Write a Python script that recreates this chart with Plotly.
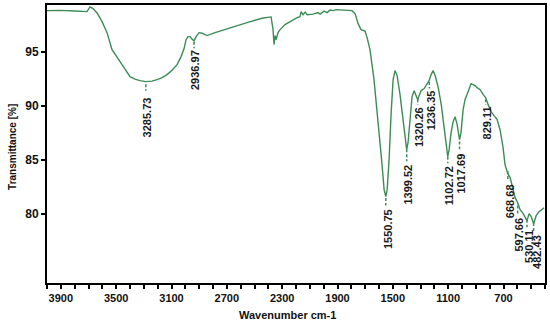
import plotly.graph_objects as go

# ---- data ----
wavenumber = [4000, 3906, 3798, 3725, 3711, 3689, 3667, 3638, 3602, 3566, 3530, 3472, 3436, 3400,
              3364, 3328, 3286, 3241, 3205, 3168, 3132, 3096, 3060, 3031, 3009, 2995, 2980, 2966,
              2951, 2937, 2922, 2901, 2879, 2843, 2785, 2677, 2554, 2438, 2380, 2366, 2359, 2351,
              2344, 2330, 2315, 2279, 2243, 2192, 2171, 2163, 2149, 2134, 2120, 2077, 2041, 2026,
              1997, 1975, 1954, 1932, 1910, 1845, 1795, 1773, 1751, 1730, 1701, 1686, 1665, 1636,
              1607, 1578, 1563, 1551, 1541, 1527, 1513, 1498, 1484, 1469, 1448, 1426, 1411, 1400,
              1390, 1375, 1361, 1346, 1332, 1320, 1310, 1296, 1274, 1252, 1238, 1223, 1209, 1194,
              1172, 1150, 1129, 1114, 1103, 1093, 1079, 1064, 1050, 1035, 1018, 1007, 992, 978,
              956, 934, 920, 905, 891, 869, 847, 829, 811, 790, 768, 746, 725, 703, 689, 669, 652,
              630, 616, 598, 580, 558, 544, 530, 515, 500, 482, 464, 443, 421, 406]
transmittance = [98.78, 98.80, 98.75, 98.72, 98.69, 99.12, 98.97, 98.57, 97.77, 96.75, 95.18, 94.08,
                 93.43, 92.69, 92.46, 92.32, 92.23, 92.28, 92.42, 92.60, 92.88, 93.29, 93.80, 94.54,
                 95.28, 96.10, 96.38, 96.38, 96.15, 96.00, 96.38, 96.75, 96.70, 96.48, 96.75, 97.20,
                 97.68, 98.10, 98.20, 97.03, 95.65, 96.48, 96.10, 96.75, 97.03, 97.49, 97.77, 98.14,
                 98.23, 98.69, 98.40, 98.64, 98.41, 98.46, 98.60, 98.46, 98.74, 98.60, 98.83, 98.78,
                 98.87, 98.83, 98.78, 98.50, 97.58, 97.03, 96.89, 96.29, 95.18, 92.42, 88.73, 84.58,
                 82.27, 81.62, 82.27, 85.04, 89.19, 92.42, 93.25, 92.79, 91.03, 88.73, 87.07, 85.96,
                 86.60, 88.90, 90.85, 91.40, 91.03, 90.57, 90.94, 91.40, 91.59, 92.05, 92.32, 92.88,
                 93.25, 92.79, 91.68, 90.11, 87.80, 86.14, 85.31, 85.96, 87.53, 88.54, 89.00, 88.27,
                 86.88, 87.53, 89.65, 90.57, 91.31, 92.05, 91.96, 91.86, 91.68, 91.49, 91.03, 90.76,
                 90.11, 89.46, 89.10, 88.73, 87.80, 86.14, 84.58, 83.75, 83.38, 82.27, 81.53, 81.07,
                 80.42, 80.06, 79.78, 79.41, 80.06, 79.78, 79.13, 79.87, 80.24, 80.42, 80.60]

peak_labels = ["3285.73", "2936.97", "1550.75", "1399.52", "1320.26", "1236.35", "1102.72",
               "1017.69", "829.11", "668.68", "597.66", "530.11", "482.43"]
peak_wavenumbers = [3285.73, 2936.97, 1550.75, 1399.52, 1320.26, 1236.35, 1102.72,
                    1017.69, 829.11, 668.68, 597.66, 530.11, 482.43]

x_tick_labels = ["3900", "3500", "3100", "2700", "2300", "1900", "1500", "1100", "700"]
y_tick_values = [80, 85, 90, 95]

# ---- label placement (axis units: transmittance where dash starts / ends / text starts) ----
dash_start = [92.0, 95.9, 81.5, 86.0, 90.6, 92.2, 85.3, 86.7, 90.6, 84.0, 80.8, 79.5, 79.2]
dash_end = [91.4, 95.3, 80.8, 84.9, 90.1, 91.6, 84.7, 86.0, 90.1, 83.2, 80.0, 78.8, 78.4]
text_top = [90.9, 95.2, 80.6, 84.7, 90.0, 91.5, 84.5, 85.7, 90.0, 82.9, 79.8, 78.6, 78.2]
label_xshift = [1.5, 1.5, 1.5, 1.5, 1.5, 1.5, 1.5, 1.5, 1.5, 1.5, 1.5, 2, 3.5]

GREEN = "#3d8c57"
FONT = "Arial, Liberation Sans, sans-serif"

fig = go.Figure()
fig.add_trace(go.Scatter(x=wavenumber, y=transmittance, mode="lines",
                         line=dict(color=GREEN, width=1.4), showlegend=False, hoverinfo="skip"))

for wn, a, b in zip(peak_wavenumbers, dash_start, dash_end):
    fig.add_trace(go.Scatter(x=[wn, wn], y=[a, b], mode="lines",
                             line=dict(color=GREEN, width=1.5, dash="3px,2px"),
                             showlegend=False, hoverinfo="skip"))

for lab, wn, t, xs in zip(peak_labels, peak_wavenumbers, text_top, label_xshift):
    fig.add_annotation(x=wn, y=t, text=lab, showarrow=False, textangle=-90,
                       xanchor="center", yanchor="top", borderpad=0, xshift=xs,
                       font=dict(family=FONT, size=11, color="#1a1a1a", weight="bold"))

x_tick_vals = [float(v) for v in x_tick_labels]

fig.update_xaxes(range=[4000, 400], tickmode="array", tickvals=x_tick_vals, ticktext=x_tick_labels,
                 showline=True, linecolor="black", linewidth=1.6, mirror=True, automargin=False,
                 ticks="outside", ticklen=4, tickwidth=1.5, tickcolor="black",
                 minor=dict(tickmode="linear", tick0=0, dtick=100, ticks="outside",
                            ticklen=4, tickwidth=1.5, tickcolor="black"),
                 showgrid=False, zeroline=False,
                 tickfont=dict(family=FONT, size=11, color="#111", weight="bold"))
fig.update_yaxes(range=[73.66, 99.3], tickmode="array", tickvals=y_tick_values,
                 showline=True, linecolor="black", linewidth=2, mirror=True, automargin=False,
                 ticks="outside", ticklen=4, tickwidth=1.5, tickcolor="black",
                 showgrid=False, zeroline=False,
                 tickfont=dict(family=FONT, size=12, color="#111", weight="bold"))

fig.add_annotation(xref="paper", yref="paper", x=0.482, y=-0.115, text="Wavenumber cm-1",
                   showarrow=False, xanchor="center", yanchor="middle",
                   font=dict(family=FONT, size=11, color="#111", weight="bold"))
fig.add_annotation(xref="paper", yref="paper", x=-0.068, y=0.49, text="Transmittance [%]",
                   showarrow=False, textangle=-90, xanchor="center", yanchor="middle",
                   font=dict(family=FONT, size=10, color="#111", weight="bold"))

fig.update_layout(width=550, height=326, margin=dict(l=47, r=5, t=5, b=43),
                  plot_bgcolor="white", paper_bgcolor="white")

fig.write_html("out.html", config={"displayModeBar": False},
               post_script="document.body.style.margin='0';")
